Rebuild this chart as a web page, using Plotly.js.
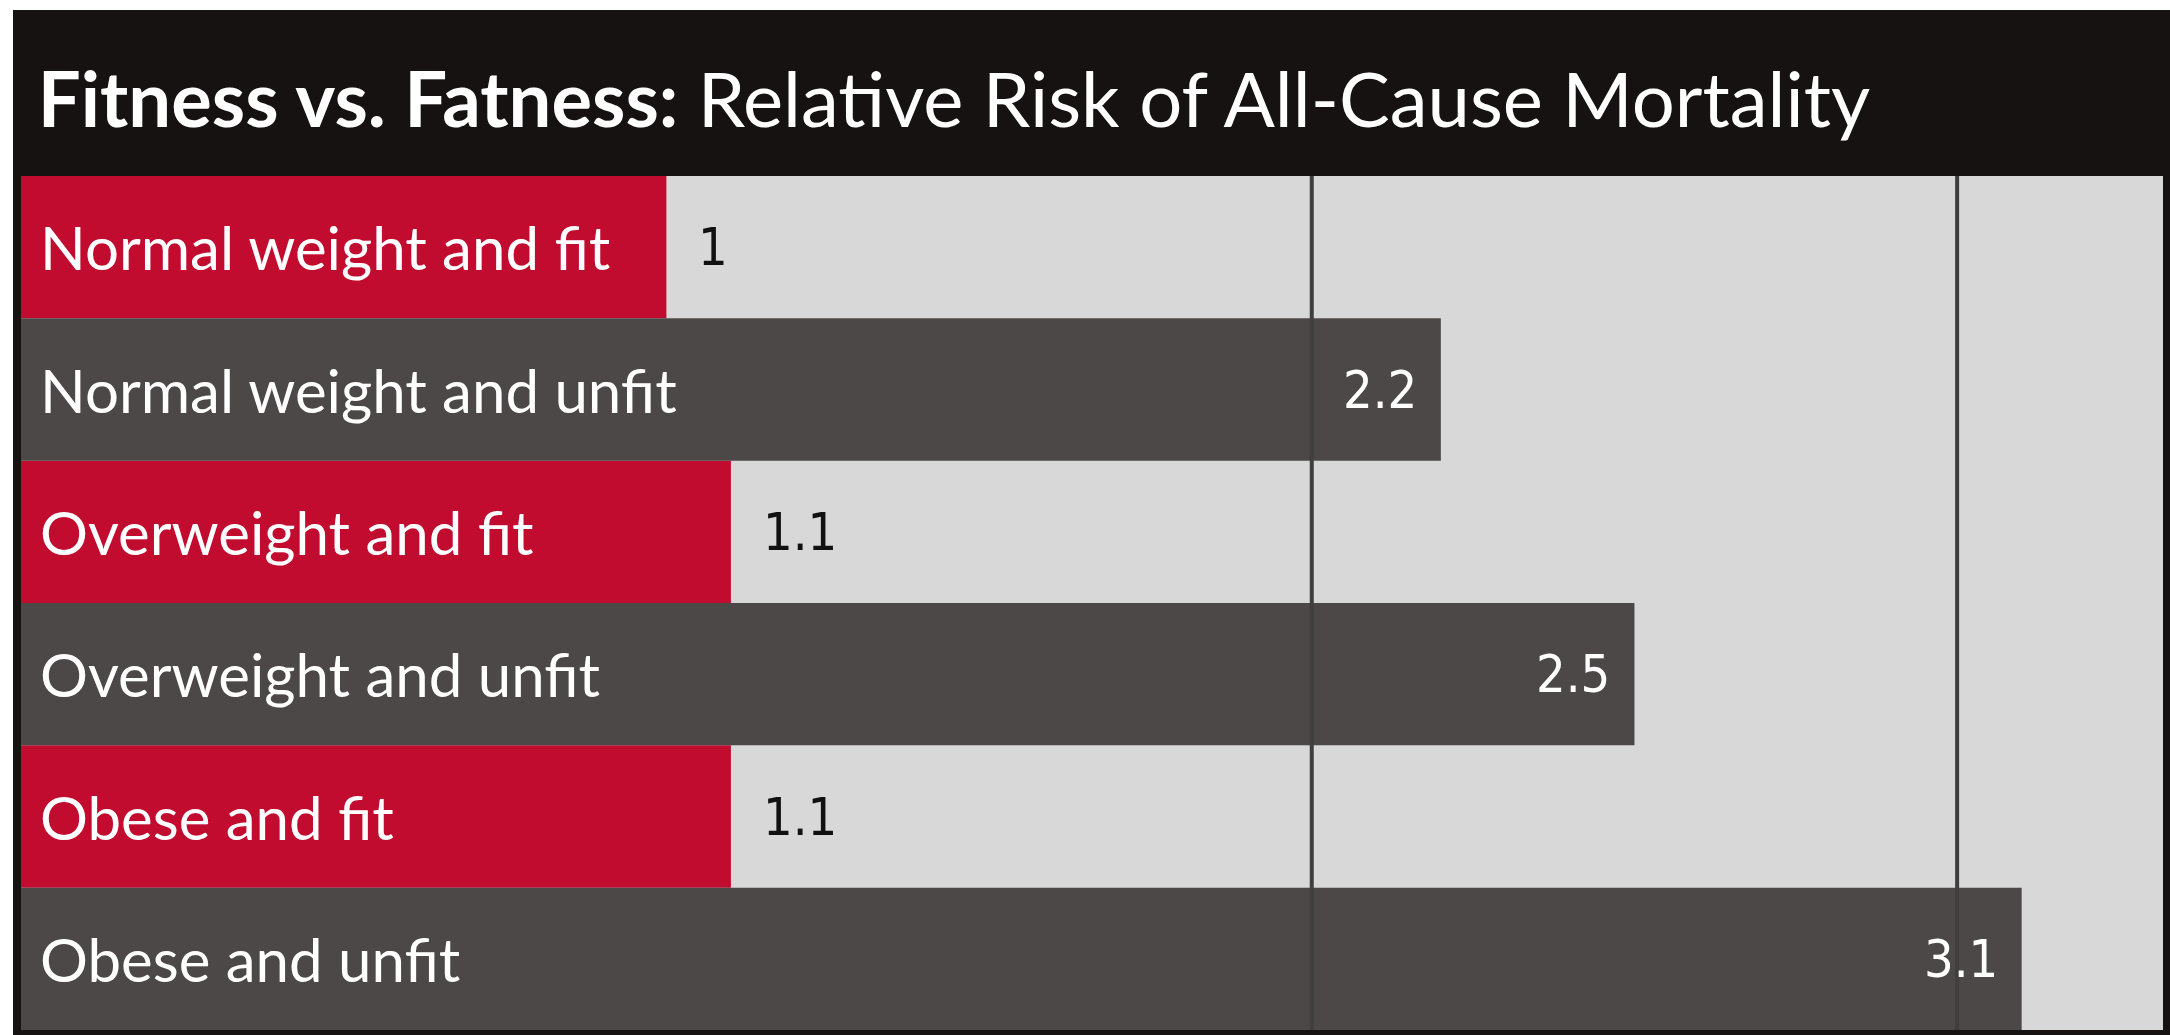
<!DOCTYPE html>
<html>
<head>
<meta charset="utf-8">
<script src="https://cdn.plot.ly/plotly-3.0.1.min.js"></script>
<style>
  html, body { margin: 0; padding: 0; background: #ffffff; }
  #chart { position: absolute; left: 13px; top: 10px; width: 2157px; height: 1025px; }
</style>
</head>
<body>
<div id="chart"></div>
<script>
// ---- data ----
const categories = [
  'Normal weight and fit',
  'Normal weight and unfit',
  'Overweight and fit',
  'Overweight and unfit',
  'Obese and fit',
  'Obese and unfit'
];
const values = [1, 2.2, 1.1, 2.5, 1.1, 3.1];
const fitness = ['fit', 'unfit', 'fit', 'unfit', 'fit', 'unfit'];
const gridValues = [2, 3];
const titleBold = 'Fitness vs. Fatness:';
const titleRest = 'Relative Risk of All-Cause Mortality';

// ---- styles ----
const barColors = { fit: '#c10c2f', unfit: '#4d4848' };
const valueColors = { fit: '#111111', unfit: '#ffffff' };
const labelFont = 'Lato, "Open Sans", sans-serif';
const valueFont = '"DejaVu Sans Condensed", "DejaVu Sans", sans-serif';

function traceFor(kind) {
  const x = [], y = [];
  categories.forEach((c, i) => { if (fitness[i] === kind) { x.push(values[i]); y.push(c); } });
  return {
    type: 'bar', orientation: 'h', x: x, y: y, width: 1,
    marker: { color: barColors[kind], line: { width: 0 } },
    hoverinfo: 'skip', name: kind
  };
}

const traces = [traceFor('fit'), traceFor('unfit')];

const annotations = [];
categories.forEach((c, i) => {
  annotations.push({
    x: 0, y: c, xref: 'x', yref: 'y', xanchor: 'left', yanchor: 'middle',
    xshift: 17, showarrow: false, text: c,
    font: { family: labelFont, size: 60, color: '#ffffff' }
  });
  const outside = fitness[i] === 'fit';
  annotations.push({
    x: values[i], y: c, xref: 'x', yref: 'y',
    xanchor: outside ? 'left' : 'right', yanchor: 'middle',
    xshift: outside ? 30 : -22, showarrow: false, text: String(values[i]),
    font: { family: valueFont, size: 52, color: valueColors[fitness[i]] }
  });
});

const shapes = gridValues.map(v => ({
  type: 'line', xref: 'x', yref: 'paper', x0: v, x1: v, y0: 0, y1: 1,
  line: { color: '#3f3f3f', width: 4 }, layer: 'above'
}));

const layout = {
  width: 2157, height: 1025,
  margin: { l: 8, r: 7, t: 166, b: 5, pad: 0 },
  paper_bgcolor: '#161211',
  plot_bgcolor: '#d8d8d8',
  barmode: 'overlay',
  showlegend: false,
  title: {
    text: '<b>' + titleBold + '</b> ' + titleRest,
    font: { family: 'Lato, sans-serif', size: 76, color: '#ffffff' },
    xref: 'container', yref: 'container',
    x: 0.0115, xanchor: 'left', y: 0.912, yanchor: 'middle'
  },
  xaxis: {
    range: [0, 3.319], showgrid: false, zeroline: false,
    showticklabels: false, ticks: '', showline: false, fixedrange: true
  },
  yaxis: {
    type: 'category', categoryorder: 'array', categoryarray: categories,
    autorange: 'reversed', showgrid: false, zeroline: false,
    showticklabels: false, ticks: '', showline: false, fixedrange: true
  },
  annotations: annotations,
  shapes: shapes
};

Plotly.newPlot('chart', traces, layout, { displayModeBar: false, staticPlot: true });
</script>
</body>
</html>
